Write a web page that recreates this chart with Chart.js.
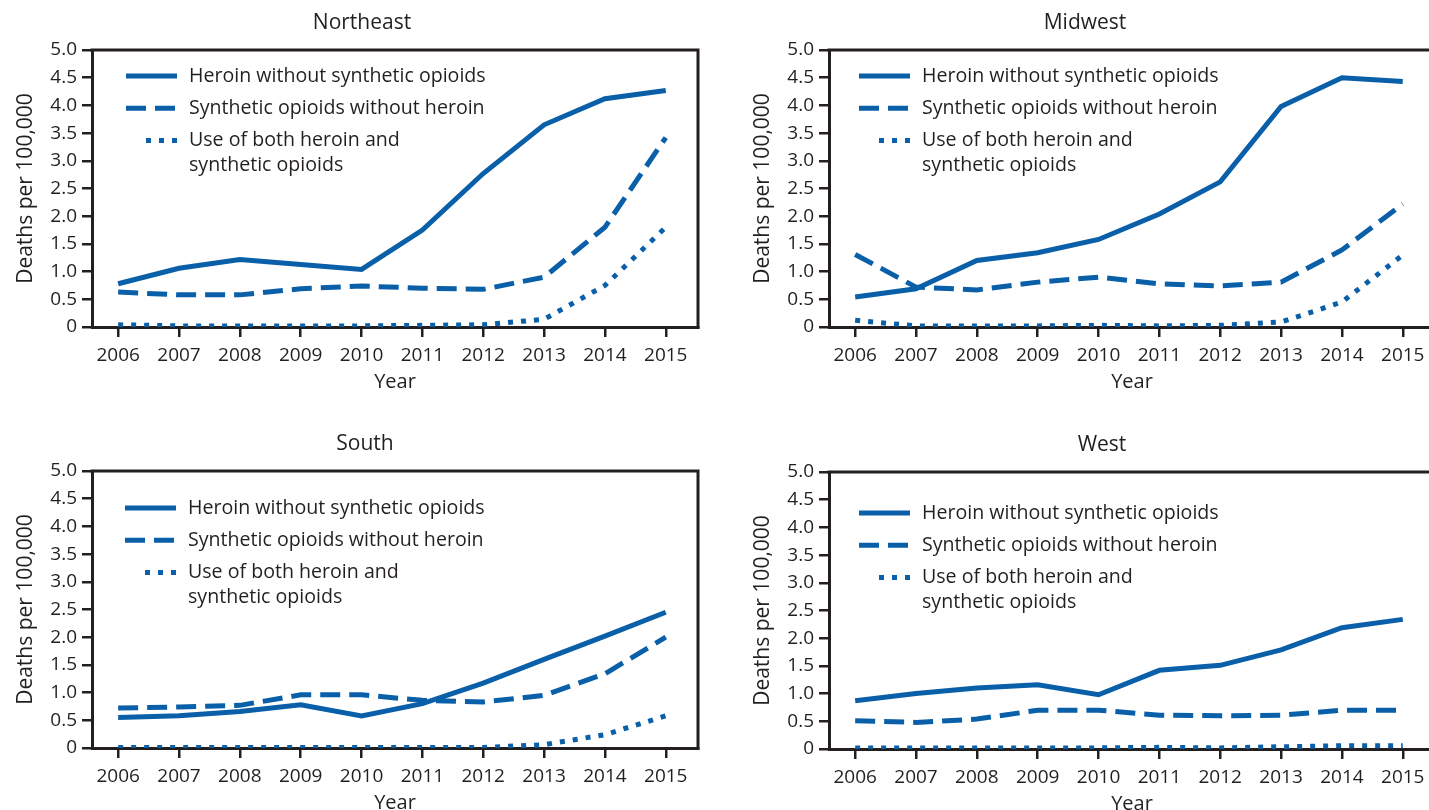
<!DOCTYPE html>
<html><head><meta charset="utf-8">
<script src="https://cdn.jsdelivr.net/npm/chart.js@4.4.0/dist/chart.umd.min.js"></script>
<style>
html,body{margin:0;padding:0;background:#fff;overflow:hidden;width:1429px;height:810px;position:relative}
canvas{position:absolute;display:block}
</style></head><body>
<canvas id="c0" width="715" height="405" style="left:0;top:0"></canvas>
<canvas id="c1" width="715" height="405" style="left:737px;top:0"></canvas>
<canvas id="c2" width="715" height="405" style="left:0;top:421px"></canvas>
<canvas id="c3" width="715" height="405" style="left:737px;top:422px"></canvas>
<script>
const years = [2006, 2007, 2008, 2009, 2010, 2011, 2012, 2013, 2014, 2015];
const yTickValues = [0, 0.5, 1, 1.5, 2, 2.5, 3, 3.5, 4, 4.5, 5];
const yTickLabels = ['0', '0.5', '1.0', '1.5', '2.0', '2.5', '3.0', '3.5', '4.0', '4.5', '5.0'];
const seriesLabels = ['Heroin without synthetic opioids', 'Synthetic opioids without heroin', ['Use of both heroin and', 'synthetic opioids']];
const regionTitles = ['Northeast', 'Midwest', 'South', 'West'];

const neHeroin    = [0.78, 1.06, 1.22, 1.13, 1.04, 1.75, 2.77, 3.65, 4.12, 4.27];
const neSynthetic = [0.63, 0.58, 0.58, 0.69, 0.74, 0.70, 0.68, 0.90, 1.80, 3.42];
const neBoth      = [0.04, 0.02, 0.02, 0.02, 0.02, 0.03, 0.04, 0.14, 0.75, 1.80];

const mwHeroin    = [0.54, 0.69, 1.20, 1.34, 1.58, 2.04, 2.62, 3.98, 4.50, 4.43];
const mwSynthetic = [1.31, 0.72, 0.67, 0.81, 0.90, 0.78, 0.74, 0.81, 1.39, 2.22];
const mwBoth      = [0.12, 0.02, 0.02, 0.02, 0.03, 0.02, 0.03, 0.09, 0.45, 1.30];

const soHeroin    = [0.55, 0.58, 0.66, 0.78, 0.58, 0.80, 1.17, 1.60, 2.02, 2.45];
const soSynthetic = [0.72, 0.74, 0.77, 0.96, 0.96, 0.86, 0.83, 0.95, 1.34, 2.00];
const soBoth      = [0.01, 0.01, 0.01, 0.01, 0.01, 0.01, 0.01, 0.06, 0.24, 0.58];

const weHeroin    = [0.87, 1.00, 1.10, 1.16, 0.98, 1.42, 1.51, 1.79, 2.19, 2.34];
const weSynthetic = [0.51, 0.48, 0.54, 0.70, 0.70, 0.61, 0.60, 0.61, 0.70, 0.70];
const weBoth      = [0.02, 0.02, 0.02, 0.02, 0.02, 0.03, 0.02, 0.04, 0.06, 0.06];

const BLUE = '#0a5fa9';
const TEXT = '#231f20';
const AXIS = '#231f20';
const FONT = "'Open Sans', 'Liberation Sans', sans-serif";
const dashes = [[], [20, 9], [5, 8]];

const framePlugin = {
  id: 'frame',
  beforeDatasetsDraw(chart) {
    const {ctx, chartArea: {left, top, right, bottom}} = chart;
    ctx.save();
    ctx.strokeStyle = AXIS;
    ctx.lineWidth = 3;
    ctx.beginPath();
    ctx.moveTo(left - 1.5, top);
    ctx.lineTo(right, top);
    ctx.lineTo(right, bottom + 1.5);
    ctx.stroke();
    ctx.restore();
  }
};

const panelTitlePlugin = {
  id: 'panelTitle',
  afterDraw(chart, args, opts) {
    const {ctx} = chart;
    ctx.save();
    ctx.fillStyle = TEXT;
    ctx.font = opts.fontSize + 'px ' + FONT;
    ctx.textAlign = 'center';
    ctx.textBaseline = 'middle';
    ctx.fillText(opts.text, opts.x, opts.y);
    ctx.restore();
  }
};

const legendPlugin = {
  id: 'insideLegend',
  afterDraw(chart, args, opts) {
    const {ctx, chartArea: {left, top}} = chart;
    ctx.save();
    chart.data.datasets.forEach((ds, i) => {
      const y = top + opts.dy + i * opts.row;
      const x1 = left + opts.dx + opts.lineLen;
      const x0 = x1 - (i === 2 ? opts.dotLen : opts.lineLen);
      ctx.strokeStyle = ds.borderColor;
      ctx.lineWidth = ds.borderWidth;
      ctx.lineCap = 'butt';
      ctx.setLineDash(ds.borderDash || []);
      ctx.beginPath();
      ctx.moveTo(x0, y);
      ctx.lineTo(x1, y);
      ctx.stroke();
      ctx.setLineDash([]);
      ctx.fillStyle = TEXT;
      ctx.font = opts.fontSize + 'px ' + FONT;
      ctx.textBaseline = 'middle';
      ctx.textAlign = 'left';
      [].concat(ds.label).forEach((t, k) => ctx.fillText(t, x1 + opts.gap, y + k * opts.lineH));
    });
    ctx.restore();
  }
};

function makeChart(id, title, titleX, series, legendOpts) {
  new Chart(document.getElementById(id), {
    type: 'line',
    data: {
      datasets: series.map((vals, i) => ({
        label: seriesLabels[i],
        data: years.map((yr, j) => ({x: yr, y: vals[j]})),
        borderColor: BLUE,
        backgroundColor: BLUE,
        borderWidth: 5,
        borderDash: dashes[i],
        borderCapStyle: 'butt',
        pointRadius: 0,
        tension: 0,
        fill: false
      }))
    },
    options: {
      responsive: false,
      animation: false,
      events: [],
      layout: {padding: {left: 0, right: 17, top: 50, bottom: 0}},
      plugins: {
        legend: {display: false},
        tooltip: {enabled: false},
        title: {display: false},
        panelTitle: {text: title, x: titleX, y: 23, fontSize: 21},
        insideLegend: Object.assign({row: 32.3, lineH: 24.5, lineLen: 51, dotLen: 31, gap: 12, fontSize: 19.6}, legendOpts)
      },
      scales: {
        x: {
          type: 'linear', min: 2005.57, max: 2015.53,
          afterBuildTicks: s => { s.ticks = years.map(v => ({value: v})); },
          afterFit: s => { s.height = 78; },
          ticks: {color: TEXT, font: {family: FONT, size: 19}, padding: 7, maxRotation: 0, autoSkip: false,
                  callback: (v, idx) => String(years[idx])},
          grid: {drawOnChartArea: false, drawTicks: true, tickLength: 10, color: AXIS, lineWidth: 2.5},
          border: {display: true, color: AXIS, width: 3},
          title: {display: true, text: 'Year', color: TEXT, font: {family: FONT, size: 20, lineHeight: 1.2},
                  padding: {top: 0, bottom: 11}}
        },
        y: {
          min: 0, max: 5,
          afterBuildTicks: s => { s.ticks = yTickValues.map(v => ({value: v})); },
          afterFit: s => { s.width = 92; },
          ticks: {color: TEXT, font: {family: FONT, size: 19}, padding: 5,
                  callback: (v, idx) => yTickLabels[idx]},
          grid: {drawOnChartArea: false, drawTicks: true, tickLength: 10, color: AXIS, lineWidth: 2.5},
          border: {display: true, color: AXIS, width: 3},
          title: {display: true, text: 'Deaths per 100,000', color: TEXT, font: {family: FONT, size: 21, lineHeight: 1.2},
                  padding: {top: 13, bottom: 0}}
        }
      }
    },
    plugins: [framePlugin, panelTitlePlugin, legendPlugin]
  });
}

makeChart('c0', regionTitles[0], 362, [neHeroin, neSynthetic, neBoth], {dx: 34, dy: 26});
makeChart('c1', regionTitles[1], 348, [mwHeroin, mwSynthetic, mwBoth], {dx: 30, dy: 26});
makeChart('c2', regionTitles[2], 365, [soHeroin, soSynthetic, soBoth], {dx: 33, dy: 37});
makeChart('c3', regionTitles[3], 365, [weHeroin, weSynthetic, weBoth], {dx: 30, dy: 41});
</script>
</body></html>
